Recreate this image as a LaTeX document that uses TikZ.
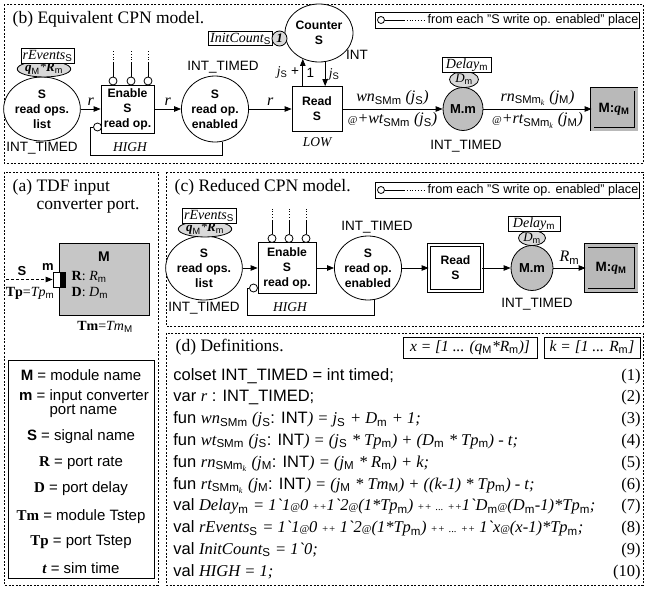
\documentclass[tikz,border=0pt]{standalone}
\usepackage{fontspec}
\setmainfont{Liberation Serif}
\setsansfont{Liberation Sans}
\usetikzlibrary{arrows.meta,positioning,calc,shapes.geometric}
\newcommand\fs[2]{\fontsize{#1}{#2}\selectfont}
\newcommand\ti[1]{{\rmfamily\itshape #1}}
\newcommand\lo[1]{\textsubscript{\sffamily\upshape\mdseries #1}}
\newcommand\bq{\textasciigrave}
\newcommand\smat{{\fs{10.5}{10}@}}
\newcommand\smpp{{\fs{10.5}{10}++}}
\newcommand\smdd{{\fs{10.5}{10}...}}

\begin{document}
\begin{tikzpicture}[x=1pt,y=-1pt,line width=.8pt,>={Triangle[length=7pt,width=5.5pt]},
frm/.style={line width=.6pt,dash pattern=on 2pt off 1.6pt},
place/.style={ellipse,draw,fill=white,align=center,inner sep=0pt,font=\sffamily\bfseries\fs{12.2}{15}},
trans/.style={rectangle,draw,fill=white,align=center,inner sep=0pt,font=\sffamily\bfseries\fs{12.2}{15}},
tok/.style={ellipse,draw,fill=gray!30,inner sep=0pt,font=\rmfamily\itshape\fs{13}{13}},
lbox/.style={draw,fill=white,inner sep=1.5pt,font=\rmfamily\itshape\fs{14}{14}},
inh/.style={circle,draw,fill=white,inner sep=0pt,minimum size=8pt},
mq/.style={rectangle,draw,double=gray!55,double distance=3pt,fill=gray!55,font=\sffamily\bfseries\fs{13.5}{14}},
lab/.style={font=\sffamily\fs{13.5}{14}},
ilab/.style={font=\rmfamily\itshape\fs{16}{18}},
slab/.style={font=\rmfamily\itshape\fs{13.5}{14}},
ttl/.style={anchor=west,font=\rmfamily\fs{17.5}{18}},
lg/.style={font=\sffamily\fs{15}{14}},
df/.style={anchor=base west,inner sep=0pt,font=\sffamily\fs{16.5}{17}},
flow/.style={->}]
\useasboundingbox (0,0) rectangle (645,589);
\draw[frm] (4,4) rectangle (643,163);
\draw[frm] (4,172) rectangle (158,585);
\draw[frm] (166,172) rectangle (643,326);
\draw[frm] (166,333) rectangle (643,585);
\node[ttl] (tb) at (9,19) {(b) Equivalent CPN model.};
\node[ttl] (tc) at (171,187) {(c) Reduced CPN model.};
\node[ttl,align=left] (ta) at (9,196) {(a) TDF input\\\phantom{(a) }converter port.};
\node[ttl] (td) at (172,347) {(d) Definitions.};
\foreach \y/\n in {20/b,190/c}{
\node[inh,minimum size=7pt] (o\n) at (381,\y) {};
\node[lab,anchor=west,font=\sffamily\fs{12.6}{13}] (f\n) at (424,\y) {from each "S write op. enabled" place};
\draw (o\n.east) -- ++(19,0) coordinate (e\n);
\draw[dotted] (e\n) -- (f\n.west);
\draw (375,\y-8) rectangle (639,\y+8);}

% (b) equivalent model
\node[place,minimum width=62pt,minimum height=64pt] (listb) at (42,109) {S\\read ops.\\list};
\node[tok,minimum width=46pt,minimum height=12pt] (qb) at (44,69) {\textbf{q}\lo{M}*\textbf{R}\lo{m}};
\node[lbox,minimum width=51pt,minimum height=13pt] (revb) at (47.5,56) {rEvents\lo{S}};
\node[lab] (itb1) at (42,148) {INT\_TIMED};
\node[trans,minimum width=53pt,minimum height=48pt] (enb) at (127.5,109) {Enable\\S\\read op.};
\foreach \x in {113,131,148}{
\node[inh] (ib\x) at (\x,81) {};
\draw (ib\x) -- ++(0,-18) coordinate (db\x);
\draw[dotted] (db\x) -- ++(0,-13);}
\node[inh] (ihb) at (97.5,127) {};
\node[place,minimum width=57pt,minimum height=66pt] (enab) at (215,109) {S\\read op.\\enabled};
\node[lab] (itb2) at (223,67) {INT\_TIMED};
\node[trans,minimum width=50pt,minimum height=45pt] (readb) at (317,109) {Read\\S};
\node[slab] (lob) at (317,142) {LOW};
\node[place,minimum width=68pt,minimum height=58pt] (cnt) at (319,33) {Counter\\S};
\node[lbox,minimum width=63pt,minimum height=13pt] (initb) at (240.5,38.5) {InitCount\lo{S}};
\node[tok,circle,minimum size=15pt,font=\rmfamily\bfseries\itshape\fs{13}{13}] (oneb) at (279.5,38.5) {1};
\node[lab] (intb) at (357,55) {INT};
\node[place,fill=gray!50,minimum width=40pt,minimum height=43pt,font=\sffamily\bfseries\fs{13}{14}] (mmb) at (463,109) {M.m};
\node[tok,minimum width=29pt,minimum height=16pt] (dmb) at (464,79.5) {D\lo{m}};
\node[lbox,minimum width=49pt,minimum height=13pt] (delb) at (467,65) {Delay\lo{m}};
\node[lab] (itb3) at (466,146) {INT\_TIMED};
\node[mq,minimum width=44pt,minimum height=40pt] (mqb) at (614,109) {M:\textbf{\ti{q}}\lo{\bfseries M}};
\draw[flow] (listb) -- node[ilab,above] (rb1) {r} (enb);
\draw[flow] (enb) -- node[ilab,above] (rb2) {r} (enab);
\draw[flow] (enab) -- node[ilab,above] (rb3) {r} (readb);
\draw (enab.282) |- (90,155) |- (ihb.west);
\node[slab] (hib) at (130,147) {HIGH};
\draw[flow] (readb.north -| cnt.238) -- node[lab,left=0pt] (jb1) {\ti{j}\lo{S} +} node[lab,right=0pt] (jb2) {1} (cnt.238);
\draw[flow] (cnt.282) -- node[lab,right=0pt] (jb3) {\ti{j}\lo{S}} (cnt.282 |- readb.north);
\draw[flow] (readb) -- node[ilab,above] (wnb) {wn\lo{SMm} (j\lo{S})} node[ilab,below] (wtb) {\smat+wt\lo{SMm} (j\lo{S})} (mmb);
\draw[flow] (mmb) -- node[ilab,above] (rnb) {rn\lo{SMm\textsubscript{\ti{k}}} (j\lo{M})} node[ilab,below] (rtb) {\smat+rt\lo{SMm\textsubscript{\ti{k}}} (j\lo{M})} (mqb);

% (c) reduced model
\node[place,minimum width=64pt,minimum height=64pt] (listc) at (204,268) {S\\read ops.\\list};
\node[tok,minimum width=46pt,minimum height=12pt] (qc) at (205,229) {\textbf{q}\lo{M}*\textbf{R}\lo{m}};
\node[lbox,minimum width=54pt,minimum height=13pt] (revc) at (209,216) {rEvents\lo{S}};
\node[lab] (itc1) at (204,308) {INT\_TIMED};
\node[trans,minimum width=58pt,minimum height=51pt] (enc) at (287,268) {Enable\\S\\read op.};
\foreach \x in {272,289,306}{
\node[inh] (ic\x) at (\x,238.5) {};
\draw (ic\x) -- ++(0,-18) coordinate (dc\x);
\draw[dotted] (dc\x) -- ++(0,-13);}
\node[inh] (ihc) at (253.5,288) {};
\node[place,minimum width=57pt,minimum height=64pt] (enac) at (368,268) {S\\read op.\\enabled};
\node[lab] (itc2) at (377,227) {INT\_TIMED};
\node[trans,double,double distance=2.5pt,minimum width=53pt,minimum height=46pt] (readc) at (455.5,268) {Read\\S};
\node[place,fill=gray!50,minimum width=42pt,minimum height=45pt,font=\sffamily\bfseries\fs{13}{14}] (mmc) at (532,268) {M.m};
\node[tok,minimum width=27pt,minimum height=15pt] (dmc) at (532,238) {D\lo{m}};
\node[lbox,minimum width=52pt,minimum height=13pt] (delc) at (534,224) {Delay\lo{m}};
\node[lab] (itc3) at (537,304) {INT\_TIMED};
\node[mq,minimum width=50pt,minimum height=45pt] (mqc) at (611,268) {M:\textbf{\ti{q}}\lo{\bfseries M}};
\draw[flow] (listc) -- (enc);
\draw[flow] (enc) -- (enac);
\draw[flow] (enac) -- (readc);
\draw[flow] (readc) -- (mmc);
\draw[flow] (mmc) -- node[ilab,above] (rmc) {R\lo{m}} (mqc);
\draw (enac.282) |- (247,315) |- (ihc.west);
\node[slab] (hic) at (290,307) {HIGH};

% (a) port
\node[draw,fill=gray!45,minimum width=90pt,minimum height=72pt] (modm) at (104,279) {};
\node[font=\sffamily\bfseries\fs{14}{14}] (mlab) at (104,257) {M};
\node[anchor=west,font=\rmfamily\fs{14}{14}] (rlab) at (68,277) {\textbf{R}: \ti{R}\lo{m}};
\node[anchor=west,font=\rmfamily\fs{14}{14}] (dlab) at (68,293) {\textbf{D}: \ti{D}\lo{m}};
\node[draw,fill=white,minimum width=7pt,minimum height=15pt,inner sep=0pt] (portw) at (56.5,279.5) {};
\node[draw,fill=black,minimum width=5pt,minimum height=15pt,inner sep=0pt] (portb) at (62.5,279.5) {};
\node[font=\sffamily\bfseries\fs{13}{13}] (mport) at (48,267) {m};
\node[font=\sffamily\bfseries\fs{13}{13}] (sig) at (22,271) {S};
\coordinate (sin) at (6,279.5);
\draw[flow,dash pattern=on 3pt off 2pt] (sin) -- (portw);
\node[font=\rmfamily\fs{14}{14}] (tpl) at (30,293) {\textbf{Tp}=\ti{Tp}\lo{m}};
\node[font=\rmfamily\fs{14}{14}] (tml) at (105,327) {\textbf{Tm}=\ti{Tm}\lo{M}};
\node[draw,minimum width=146pt,minimum height=218pt] (lega) at (81,469) {};
\foreach \y/\t in {375/{\textbf{M} = module name},
437/{\textbf{S} = signal name},463/{{\rmfamily\bfseries R} = port rate},
489/{{\rmfamily\bfseries D} = port delay},517/{{\rmfamily\bfseries Tm} = module Tstep},
542/{{\rmfamily\bfseries Tp} = port Tstep},568/{{\rmfamily\bfseries\itshape t} = sim time}}
\node[lg] (la\y) at (81,\y) {\t};
\node[lg,align=left] (la403) at (84,403.5) {\textbf{m} = input converter\\\phantom{\textbf{m} = }port name};

% (d) definitions
\node[draw,font=\rmfamily\itshape\fs{15.5}{15},minimum width=134pt,minimum height=21pt,inner sep=1pt] (xr) at (470,347.5) {x = [1 ... (q\lo{M}*R\lo{m})]};
\node[draw,font=\rmfamily\itshape\fs{15.5}{15},minimum width=96pt,minimum height=21pt,inner sep=1pt] (kr) at (592,347.5) {k = [1 ... R\lo{m}]};
\node[df] (d1) at (173,380) {colset INT\_TIMED = int timed;};
\node[df] (d2) at (173,401.8) {var \ti{r} : INT\_TIMED;};
\node[df] (d3) at (173,423.6) {fun \ti{wn}\lo{SMm} \ti{(j}\lo{S}: INT\ti{) = j}\lo{S} \ti{+ D}\lo{m} \ti{+ 1;}};
\node[df] (d4) at (173,445.4) {fun \ti{wt}\lo{SMm} \ti{(j}\lo{S}: INT\ti{) = (j}\lo{S} \ti{* Tp}\lo{m}\ti{) + (D}\lo{m} \ti{* Tp}\lo{m}\ti{) - t;}};
\node[df] (d5) at (173,467.2) {fun \ti{rn}\lo{SMm\textsubscript{\ti{k}}} \ti{(j}\lo{M}: INT\ti{) = (j}\lo{M} \ti{* R}\lo{m}\ti{) + k;}};
\node[df] (d6) at (173,489) {fun \ti{rt}\lo{SMm\textsubscript{\ti{k}}} \ti{(j}\lo{M}: INT\ti{) = (j}\lo{M} \ti{* Tm}\lo{M}\ti{) + ((k-1) * Tp}\lo{m}\ti{) - t;}};
\node[df] (d7) at (173,510.8) {val \ti{Delay}\lo{m} \ti{= 1\bq1\smat0 \smpp1\bq2\smat(1*Tp}\lo{m}\ti{) \smpp\ \smdd\ \smpp1\bq D}\lo{m}\ti{\smat(D}\lo{m}\ti{-1)*Tp}\lo{m}\ti{;}};
\node[df] (d8) at (173,532.6) {val \ti{rEvents}\lo{S} \ti{= 1\bq1\smat0 \smpp\ 1\bq2\smat(1*Tp}\lo{m}\ti{) \smpp\ \smdd\ \smpp\ 1\bq x\smat(x-1)*Tp}\lo{m}\ti{;}};
\node[df] (d9) at (173,554.4) {val \ti{InitCount}\lo{S} \ti{= 1\bq0;}};
\node[df] (d10) at (173,576.2) {val \ti{HIGH = 1;}};
\foreach \n in {1,...,10}
\node[df,anchor=base east,font=\rmfamily\fs{16.5}{17}] (n\n) at (641,358.2+21.8*\n) {(\n)};
\end{tikzpicture}
\end{document}
